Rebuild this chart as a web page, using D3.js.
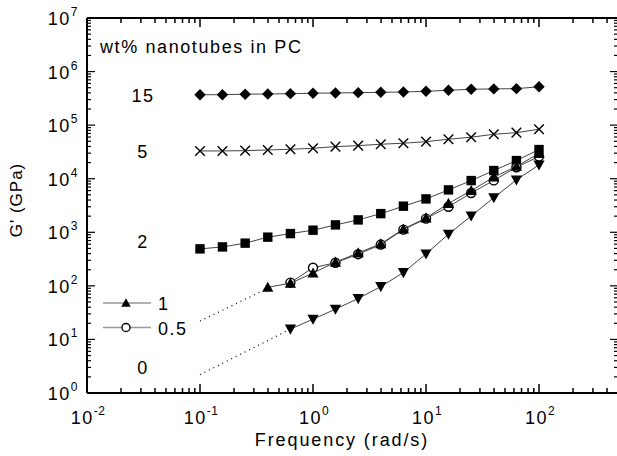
<!DOCTYPE html>
<html>
<head>
<meta charset="utf-8">
<script src="https://cdn.jsdelivr.net/npm/d3@7"></script>
<style>
  body { margin: 0; background: #fff; }
  svg { display: block; font-family: "Liberation Sans", Arial, sans-serif; }
</style>
</head>
<body>
<svg id="chart" width="617" height="456"></svg>
<script>
// frequencies (rad/s), 5 points per decade
const freq = [0.1, 0.158, 0.251, 0.398, 0.631, 1, 1.58, 2.51, 3.98, 6.31, 10, 15.8, 25.1, 39.8, 63.1, 100];

// G' values, one array per nanotube loading
const pc15 = [370000, 370000, 378000, 382000, 387000, 394000, 399000, 404000, 410000, 416000, 428000, 448000, 467000, 475000, 480000, 520000];
const pc5 = [33000, 33000, 33400, 34400, 35500, 37000, 39700, 41500, 44000, 46000, 49200, 54600, 59500, 67600, 72400, 83800];
const pc2 = [490, 533, 627, 811, 946, 1094, 1374, 1703, 2230, 3070, 4200, 6180, 9230, 14200, 21800, 35000];
const pc1 = [94, 112, 173, 277, 412, 610, 1150, 1850, 3450, 6000, 10700, 17000, 29500];
const pc05 = [115, 218, 270, 390, 590, 1120, 1800, 3000, 5400, 9300, 16400, 26000];
const pc0 = [15.6, 23.9, 36.7, 58, 97, 177, 395, 920, 2020, 4430, 9500, 18100];

// dotted low-frequency extrapolations
const extLow1 = [[0.1, 22], [0.398, 90]];
const extLow0 = [[0.1, 2.2], [0.631, 15.6]];

const seriesLabels = [
  { text: "15", v: 360000 },
  { text: "5", v: 33000 },
  { text: "2", v: 700 },
  { text: "0", v: 3 }
];
const legendItems = [
  { text: "1", symbol: "triUp" },
  { text: "0.5", symbol: "circle" }
];

const xDomain = [0.01, 500];
const yDomain = [1, 1e7];

const svg = d3.select("#chart");
const plotL = 87, plotR = 618, plotT = 18, plotB = 393;

const x = d3.scaleLog().domain(xDomain).range([plotL, plotR]);
const y = d3.scaleLog().domain(yDomain).range([plotB, plotT]);

const ink = "#000";

// ---- markers ----
function drawSymbol(g, type, cx, cy, s) {
  s = s || 1;
  if (type === "diamond") {
    const r = 5.7 * s;
    g.append("path").attr("d", `M${cx},${cy - r}L${cx + r},${cy}L${cx},${cy + r}L${cx - r},${cy}Z`).attr("fill", ink);
  } else if (type === "square") {
    const h = 4.7 * s;
    g.append("rect").attr("x", cx - h).attr("y", cy - h).attr("width", 2 * h).attr("height", 2 * h).attr("fill", ink);
  } else if (type === "cross") {
    const h = 4.8 * s;
    g.append("path").attr("d", `M${cx - h},${cy - h}L${cx + h},${cy + h}M${cx - h},${cy + h}L${cx + h},${cy - h}`)
      .attr("stroke", ink).attr("stroke-width", 1.4).attr("fill", "none");
  } else if (type === "triUp") {
    const h = 5.6 * s;
    g.append("path").attr("d", `M${cx},${cy - h}L${cx + h},${cy + h * 0.8}L${cx - h},${cy + h * 0.8}Z`).attr("fill", ink);
  } else if (type === "triDown") {
    const h = 5.6 * s;
    g.append("path").attr("d", `M${cx},${cy + h}L${cx + h},${cy - h * 0.8}L${cx - h},${cy - h * 0.8}Z`).attr("fill", ink);
  } else if (type === "circle") {
    g.append("circle").attr("cx", cx).attr("cy", cy).attr("r", 4.5 * s)
      .attr("fill", "#fff").attr("stroke", ink).attr("stroke-width", 1.4);
  }
}

const line = d3.line().x(d => x(d[0])).y(d => y(d[1]));

function series(vals, sym) {
  const off = freq.length - vals.length;
  const pts = vals.map((v, i) => [freq[i + off], v]);
  const g = svg.append("g");
  g.append("path").datum(pts).attr("d", line)
    .attr("fill", "none").attr("stroke", "#444").attr("stroke-width", 1);
  pts.forEach(p => drawSymbol(g, sym, x(p[0]), y(p[1])));
}

// dotted extrapolations
[extLow1, extLow0].forEach(pts => {
  svg.append("path").datum(pts).attr("d", line)
    .attr("fill", "none").attr("stroke", "#000").attr("stroke-width", 1.2)
    .attr("stroke-dasharray", "1,4");
});

series(pc15, "diamond");
series(pc5, "cross");
series(pc2, "square");
series(pc0, "triDown");
series(pc05, "circle");
series(pc1, "triUp");

// ---- axes ----
const axisG = svg.append("g");
axisG.append("line").attr("x1", plotL).attr("x2", plotR).attr("y1", plotB).attr("y2", plotB).attr("stroke", ink).attr("stroke-width", 2);
axisG.append("line").attr("x1", plotL).attr("x2", plotR).attr("y1", plotT).attr("y2", plotT).attr("stroke", ink).attr("stroke-width", 2);
axisG.append("line").attr("x1", plotL).attr("x2", plotL).attr("y1", plotT).attr("y2", plotB).attr("stroke", ink).attr("stroke-width", 2);
axisG.append("line").attr("x1", plotR).attr("x2", plotR).attr("y1", plotT).attr("y2", plotB).attr("stroke", ink).attr("stroke-width", 2);

function logTicks(domain) {
  const out = [];
  const lo = Math.floor(Math.log10(domain[0])), hi = Math.ceil(Math.log10(domain[1]));
  for (let e = lo; e <= hi; e++) {
    for (let m = 1; m <= 9; m++) {
      const v = m * Math.pow(10, e);
      if (v >= domain[0] * 0.999 && v <= domain[1] * 1.001) out.push({ v, major: m === 1, e });
    }
  }
  return out;
}

logTicks(xDomain).forEach(t => {
  const px = x(t.v), len = t.major ? 9 : 5;
  axisG.append("line").attr("x1", px).attr("x2", px).attr("y1", plotB).attr("y2", plotB - len).attr("stroke", ink).attr("stroke-width", 1.5);
  axisG.append("line").attr("x1", px).attr("x2", px).attr("y1", plotT).attr("y2", plotT + len).attr("stroke", ink).attr("stroke-width", 1.5);
});
logTicks(yDomain).forEach(t => {
  const py = y(t.v), len = t.major ? 8 : 4;
  axisG.append("line").attr("x1", plotL).attr("x2", plotL + len).attr("y1", py).attr("y2", py).attr("stroke", ink).attr("stroke-width", 1.2);
  axisG.append("line").attr("x1", plotR).attr("x2", plotR - len).attr("y1", py).attr("y2", py).attr("stroke", ink).attr("stroke-width", 1.2);
});

function powLabel(px, py, e, anchor) {
  const t = svg.append("text").attr("x", px).attr("y", py).attr("text-anchor", anchor)
    .attr("font-size", 18).attr("letter-spacing", 1.5).attr("fill", "#000");
  t.append("tspan").text("10");
  t.append("tspan").attr("dy", -9).attr("font-size", 12).attr("letter-spacing", 0.5).text(String(e));
}

// x tick labels at decades
logTicks(xDomain).filter(t => t.major).forEach(t => powLabel(x(t.v) + 1, 424, t.e, "middle"));
// y tick labels at decades
logTicks(yDomain).filter(t => t.major).forEach(t => powLabel(78, y(t.v) + 7, t.e, "end"));

// axis titles
svg.append("text").attr("x", 342).attr("y", 446).attr("text-anchor", "middle")
  .attr("font-size", 18).attr("letter-spacing", 1.9).attr("fill", "#000").text("Frequency (rad/s)");
svg.append("text").attr("transform", "translate(22,200) rotate(-90)").attr("text-anchor", "middle")
  .attr("font-size", 17).attr("letter-spacing", 1).attr("fill", "#000").text("G' (GPa)");

// annotation
svg.append("text").attr("x", 100).attr("y", 53).attr("font-size", 18).attr("letter-spacing", 1.6)
  .attr("fill", "#000").text("wt% nanotubes in PC");

seriesLabels.forEach(d => {
  svg.append("text").attr("x", 143).attr("y", y(d.v) + 7).attr("text-anchor", "middle")
    .attr("font-size", 18).attr("letter-spacing", 1.5).attr("fill", "#000").text(d.text);
});

// legend
legendItems.forEach((d, i) => {
  const ly = 303 + i * 24.5;
  svg.append("line").attr("x1", 103).attr("x2", 151).attr("y1", ly).attr("y2", ly)
    .attr("stroke", "#999").attr("stroke-width", 1.5);
  drawSymbol(svg, d.symbol, 126, ly, d.symbol === "circle" ? 0.9 : 0.85);
  svg.append("text").attr("x", 158).attr("y", ly + 7).attr("font-size", 18).attr("letter-spacing", 1.5)
    .attr("fill", "#000").text(d.text);
});
</script>
</body>
</html>
